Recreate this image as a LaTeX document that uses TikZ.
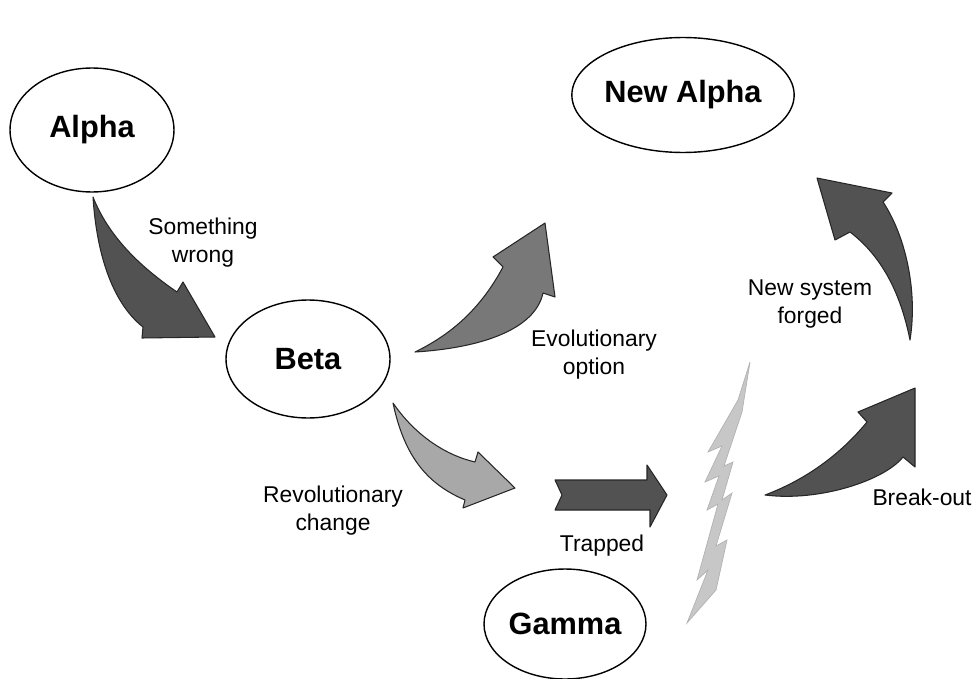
\documentclass[tikz,border=0pt]{standalone}
\usepackage{fontspec}
\setmainfont{Liberation Sans}
\usetikzlibrary{shapes.geometric}

\tikzset{
  stage/.style={ellipse, draw=black, line width=0.8pt, fill=white,
    inner sep=0pt, font=\fontsize{17.5}{20}\selectfont\bfseries},
  caption/.style={align=center, font=\fontsize{13}{16}\selectfont},
  blockarrow/.style={draw=black!85, line width=0.6pt, line join=round},
  darkfill/.style={blockarrow, fill=black!68},
  midfill/.style={blockarrow, fill=black!53},
  lightfill/.style={blockarrow, fill=black!34},
  bolt/.style={draw=black!30, line width=0.4pt, fill=black!22, line join=miter}
}

\begin{document}
\begin{tikzpicture}[x=0.02cm, y=-0.02cm]
  \useasboundingbox (0,0) rectangle (980,679);

  % states
  \node[stage, minimum width=3.28cm, minimum height=2.48cm] (alpha) at (92,130) {Alpha};
  \node[stage, minimum width=3.94cm, minimum height=2.3cm] (newalpha) at (683,95) {New Alpha};
  \node[stage, minimum width=3.28cm, minimum height=2.36cm] (beta) at (308,359) {Beta};
  \node[stage, minimum width=3.24cm, minimum height=2.2cm] (gamma) at (565,624) {Gamma};

  % something wrong: Alpha down to Beta
  \draw[darkfill] (93,197) .. controls (97,260) and (115,305) .. (143,327)
    -- (142,338) -- (215,337) -- (183,282) -- (177,292)
    .. controls (145,270) and (110,240) .. cycle;

  % evolutionary option: Beta up towards New Alpha
  \draw[midfill] (415,352) .. controls (480,348) and (535,330) .. (543,293)
    -- (555,297) -- (545,223) -- (493,257) -- (503,267)
    .. controls (480,310) and (450,335) .. cycle;

  % revolutionary change: Beta down
  \draw[lightfill] (393,403) .. controls (415,435) and (445,455) .. (475,462)
    -- (478,452) -- (515,488) -- (463,508) -- (465,500)
    .. controls (430,485) and (405,460) .. cycle;

  % trapped
  \draw[darkfill] (555,480) -- (647,480) -- (647,465) -- (667,495)
    -- (650,527) -- (650,510) -- (555,510) -- (562,495) -- cycle;

  % lightning: right-hand teeth going down, left-hand teeth coming back up
  \draw[bolt] (750,362) -- (742,412) -- (724,466) -- (733,462)
    -- (722,500) -- (732,493) -- (716,546) -- (727,540)
    -- (716,590) -- (687,623)
    -- (708,570) -- (697,580) -- (718,504) -- (707,510)
    -- (719,476) -- (705,482) -- (722,446) -- (708,452)
    -- (738,400) -- cycle;

  % break-out
  \draw[darkfill] (765,495) .. controls (820,502) and (885,480) .. (903,457)
    -- (915,467) -- (915,388) -- (858,412) -- (867,422)
    .. controls (840,455) and (805,480) .. cycle;

  % new system forged
  \draw[darkfill] (817,178) -- (892,193) -- (883,202)
    .. controls (905,235) and (918,290) .. (910,340)
    .. controls (900,290) and (880,255) .. (850,232)
    -- (835,240) -- cycle;

  % captions
  \node[caption] (lwrong) at (203,243) {Something\\wrong};
  \node[caption] (levo) at (594,355) {Evolutionary\\option};
  \node[caption] (lrev) at (333,511) {Revolutionary\\change};
  \node[caption] (ltrap) at (602,546) {Trapped};
  \node[caption] (lforged) at (810,304) {New system\\forged};
  \node[caption] (lbreak) at (922,497) {Break-out};
\end{tikzpicture}
\end{document}
